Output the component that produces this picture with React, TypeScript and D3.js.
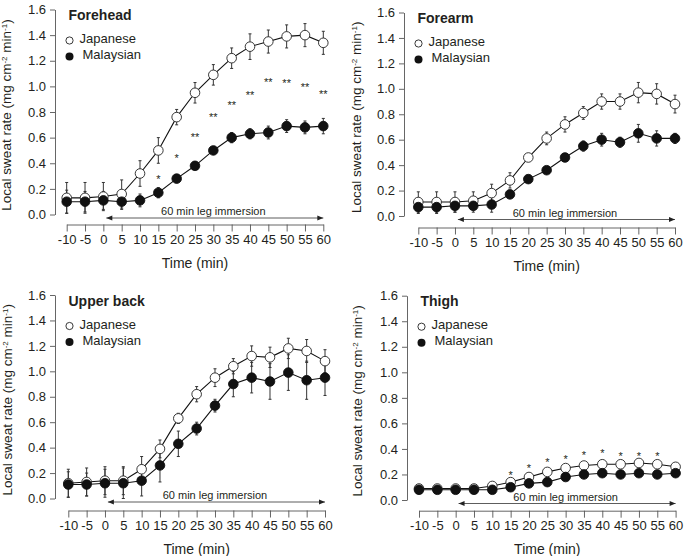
import React, { useRef, useEffect } from 'react';
import * as d3 from 'd3';

const times = [-10, -5, 0, 5, 10, 15, 20, 25, 30, 35, 40, 45, 50, 55, 60];
const yTicks = [0, 0.2, 0.4, 0.6, 0.8, 1.0, 1.2, 1.4, 1.6];

// Forehead
const foreheadJp = [0.13, 0.13, 0.14, 0.16, 0.32, 0.50, 0.76, 0.95, 1.09, 1.22, 1.31, 1.35, 1.39, 1.40, 1.34];
const foreheadJpSd = [0.12, 0.12, 0.11, 0.11, 0.10, 0.10, 0.06, 0.08, 0.08, 0.08, 0.10, 0.09, 0.09, 0.09, 0.09];
const foreheadMy = [0.10, 0.10, 0.11, 0.10, 0.11, 0.17, 0.28, 0.38, 0.50, 0.60, 0.63, 0.64, 0.69, 0.68, 0.69];
const foreheadMySd = [0.09, 0.08, 0.07, 0.06, 0.05, 0.04, 0.03, 0.03, 0.03, 0.04, 0.04, 0.05, 0.05, 0.05, 0.06];
const foreheadStarTimes = [15, 20, 25, 30, 35, 40, 45, 50, 55, 60];
const foreheadStarLevels = [0.29, 0.46, 0.62, 0.78, 0.87, 0.95, 1.05, 1.04, 1.01, 0.96];
const foreheadStarMarks = ['*', '*', '**', '**', '**', '**', '**', '**', '**', '**'];

// Forearm
const forearmJp = [0.11, 0.11, 0.11, 0.12, 0.18, 0.28, 0.46, 0.61, 0.72, 0.81, 0.90, 0.90, 0.97, 0.96, 0.88];
const forearmJpSd = [0.08, 0.08, 0.08, 0.07, 0.07, 0.06, 0.03, 0.05, 0.06, 0.05, 0.06, 0.06, 0.08, 0.08, 0.07];
const forearmMy = [0.07, 0.07, 0.08, 0.08, 0.09, 0.17, 0.29, 0.36, 0.46, 0.55, 0.60, 0.58, 0.65, 0.61, 0.61];
const forearmMySd = [0.05, 0.05, 0.05, 0.05, 0.06, 0.03, 0.02, 0.02, 0.02, 0.04, 0.05, 0.04, 0.07, 0.06, 0.04];

// Upper back
const backJp = [0.12, 0.13, 0.14, 0.14, 0.23, 0.39, 0.63, 0.82, 0.95, 1.04, 1.12, 1.11, 1.18, 1.16, 1.08];
const backJpSd = [0.11, 0.11, 0.11, 0.11, 0.10, 0.07, 0.04, 0.06, 0.07, 0.06, 0.08, 0.08, 0.08, 0.09, 0.09];
const backMy = [0.11, 0.11, 0.12, 0.12, 0.14, 0.26, 0.43, 0.55, 0.73, 0.90, 0.95, 0.92, 0.99, 0.93, 0.95];
const backMySd = [0.10, 0.09, 0.11, 0.12, 0.12, 0.13, 0.10, 0.05, 0.05, 0.10, 0.12, 0.14, 0.14, 0.15, 0.14];

// Thigh
const thighJp = [0.09, 0.09, 0.09, 0.09, 0.11, 0.14, 0.18, 0.22, 0.25, 0.27, 0.28, 0.28, 0.29, 0.28, 0.26];
const thighJpSd = [0.01, 0.01, 0.01, 0.01, 0.01, 0.01, 0.01, 0.01, 0.01, 0.01, 0.01, 0.01, 0.01, 0.01, 0.01];
const thighMy = [0.08, 0.08, 0.08, 0.08, 0.08, 0.10, 0.13, 0.14, 0.18, 0.20, 0.21, 0.20, 0.21, 0.20, 0.21];
const thighMySd = [0.01, 0.01, 0.01, 0.01, 0.01, 0.01, 0.01, 0.01, 0.01, 0.01, 0.01, 0.01, 0.01, 0.01, 0.01];
const thighStarTimes = [15, 20, 25, 30, 35, 40, 45, 50, 55];
const thighStarLevels = [0.21, 0.27, 0.31, 0.34, 0.37, 0.38, 0.36, 0.36, 0.36];
const thighStarMarks = ['*', '*', '*', '*', '*', '*', '*', '*', '*'];

const panels = [
  { title: 'Forehead', jp: foreheadJp, jpSd: foreheadJpSd, my: foreheadMy, mySd: foreheadMySd,
    starTimes: foreheadStarTimes, starLevels: foreheadStarLevels, starMarks: foreheadStarMarks,
    axisX: 55, x0: 66.7, x1: 323.3, yBottom: 214.5, yTop: 9.5, xAxisY: 224.5, labelX: 11 },
  { title: 'Forearm', jp: forearmJp, jpSd: forearmJpSd, my: forearmMy, mySd: forearmMySd,
    starTimes: [], starLevels: [], starMarks: [],
    axisX: 404, x0: 418.3, x1: 675, yBottom: 216, yTop: 12.5, xAxisY: 227.5, labelX: 361 },
  { title: 'Upper back', jp: backJp, jpSd: backJpSd, my: backMy, mySd: backMySd,
    starTimes: [], starLevels: [], starMarks: [],
    axisX: 55, x0: 68.3, x1: 325, yBottom: 498.5, yTop: 295, xAxisY: 510.5, labelX: 12 },
  { title: 'Thigh', jp: thighJp, jpSd: thighJpSd, my: thighMy, mySd: thighMySd,
    starTimes: thighStarTimes, starLevels: thighStarLevels, starMarks: thighStarMarks,
    axisX: 407, x0: 419, x1: 675.6, yBottom: 500, yTop: 295.7, xAxisY: 510.7, labelX: 362 },
];

const font = "'Liberation Sans', Arial, sans-serif";
const ink = '#231f20';

export default function App() {
  const svgRef = useRef(null);

  useEffect(() => {
    const svg = d3.select(svgRef.current);
    svg.selectAll('*').remove();

    panels.forEach(p => {
      const g = svg.append('g');
      const x = d3.scaleLinear().domain([-10, 60]).range([p.x0, p.x1]);
      const y = d3.scaleLinear().domain([0, 1.6]).range([p.yBottom, p.yTop]);

      // y axis
      const yAxis = g.append('g')
        .attr('transform', `translate(${p.axisX},0)`)
        .call(d3.axisLeft(y).tickValues(yTicks).tickFormat(d3.format('.1f')).tickSize(5).tickSizeOuter(0).tickPadding(4));
      // x axis (plain hyphen for negatives, like the original)
      const xAxis = g.append('g')
        .attr('transform', `translate(0,${p.xAxisY})`)
        .call(d3.axisBottom(x).tickValues(times).tickFormat(d => String(d)).tickSize(7).tickSizeOuter(0).tickPadding(3));
      [yAxis, xAxis].forEach(a => {
        a.selectAll('path, line').attr('stroke', '#555').attr('stroke-width', 0.9);
        a.selectAll('text').attr('font-family', font).attr('font-size', 13).attr('fill', ink);
      });

      // axis titles
      g.append('text')
        .attr('x', (p.x0 + p.x1) / 2)
        .attr('y', p.xAxisY + 43)
        .attr('text-anchor', 'middle')
        .attr('font-family', font).attr('font-size', 14).attr('fill', ink)
        .text('Time (min)');

      const yl = g.append('text')
        .attr('transform', `translate(${p.labelX},${(p.yTop + p.yBottom) / 2 + 3}) rotate(-90)`)
        .attr('text-anchor', 'middle')
        .attr('font-family', font).attr('font-size', 13.5).attr('fill', ink);
      yl.append('tspan').text('Local sweat rate (mg cm');
      yl.append('tspan').attr('font-size', 8).attr('dy', -4.5).text('-2');
      yl.append('tspan').attr('dy', 4.5).text(' min');
      yl.append('tspan').attr('font-size', 8).attr('dy', -4.5).text('-1');
      yl.append('tspan').attr('dy', 4.5).text(')');

      // immersion arrow
      const ay = p.yBottom + 3.5;
      const ax0 = x(0.8);
      const ax1 = x(60);
      g.append('line').attr('x1', ax0).attr('x2', ax1).attr('y1', ay).attr('y2', ay)
        .attr('stroke', '#333').attr('stroke-width', 0.8);
      g.append('path').attr('d', `M${ax0},${ay}l6,-2.5v5z`).attr('fill', '#222');
      g.append('path').attr('d', `M${ax1},${ay}l-6,-2.5v5z`).attr('fill', '#222');
      g.append('text')
        .attr('x', x(30)).attr('y', ay - 3)
        .attr('text-anchor', 'middle')
        .attr('font-family', font).attr('font-size', 11).attr('fill', ink)
        .text('60 min leg immersion');

      // lines
      const line = d3.line<number>().x((d, i) => x(times[i])).y(d => y(d));
      [p.jp, p.my].forEach(s => {
        g.append('path').attr('d', line(s)).attr('fill', 'none')
          .attr('stroke', '#111').attr('stroke-width', 1.1);
      });

      // error bars
      const drawErr = (vals, sds) => {
        vals.forEach((v, i) => {
          const cx = x(times[i]);
          const top = y(v + sds[i]);
          const bot = y(v - sds[i]);
          g.append('line').attr('x1', cx).attr('x2', cx).attr('y1', top).attr('y2', bot)
            .attr('stroke', '#333').attr('stroke-width', 1);
          [top, bot].forEach(yy => {
            g.append('line').attr('x1', cx - 1.5).attr('x2', cx + 1.5).attr('y1', yy).attr('y2', yy)
              .attr('stroke', '#333').attr('stroke-width', 1);
          });
        });
      };
      drawErr(p.jp, p.jpSd);
      drawErr(p.my, p.mySd);

      // markers
      g.selectAll('.jp').data(p.jp).enter().append('circle')
        .attr('cx', (d, i) => x(times[i])).attr('cy', d => y(d)).attr('r', 4.8)
        .attr('fill', '#fff').attr('stroke', '#222').attr('stroke-width', 0.9);
      g.selectAll('.my').data(p.my).enter().append('circle')
        .attr('cx', (d, i) => x(times[i])).attr('cy', d => y(d)).attr('r', 4.8)
        .attr('fill', '#111').attr('stroke', '#111').attr('stroke-width', 0.9);

      // significance marks
      p.starTimes.forEach((t, i) => {
        g.append('text')
          .attr('x', x(t)).attr('y', y(p.starLevels[i]) + 6)
          .attr('text-anchor', 'middle')
          .attr('font-family', font).attr('font-size', 11).attr('fill', ink)
          .text(p.starMarks[i]);
      });

      // title and legend
      const tx = p.axisX + 13.5;
      g.append('text').attr('x', tx).attr('y', p.yTop + 10.5)
        .attr('font-family', font).attr('font-size', 14).attr('font-weight', 'bold').attr('fill', ink)
        .text(p.title);
      g.append('circle').attr('cx', tx + 1).attr('cy', p.yTop + 31).attr('r', 3.6)
        .attr('fill', '#fff').attr('stroke', '#222').attr('stroke-width', 0.9);
      g.append('text').attr('x', tx + 11).attr('y', p.yTop + 33.5)
        .attr('font-family', font).attr('font-size', 13).attr('fill', ink).text('Japanese');
      g.append('circle').attr('cx', tx + 1).attr('cy', p.yTop + 47).attr('r', 4)
        .attr('fill', '#111');
      g.append('text').attr('x', tx + 14).attr('y', p.yTop + 49.5)
        .attr('font-family', font).attr('font-size', 13).attr('fill', ink).text('Malaysian');
    });
  }, []);

  return (
    <svg ref={svgRef} width={685} height={556}
      style={{ position: 'absolute', left: 0, top: 0, background: '#fff' }} />
  );
}
